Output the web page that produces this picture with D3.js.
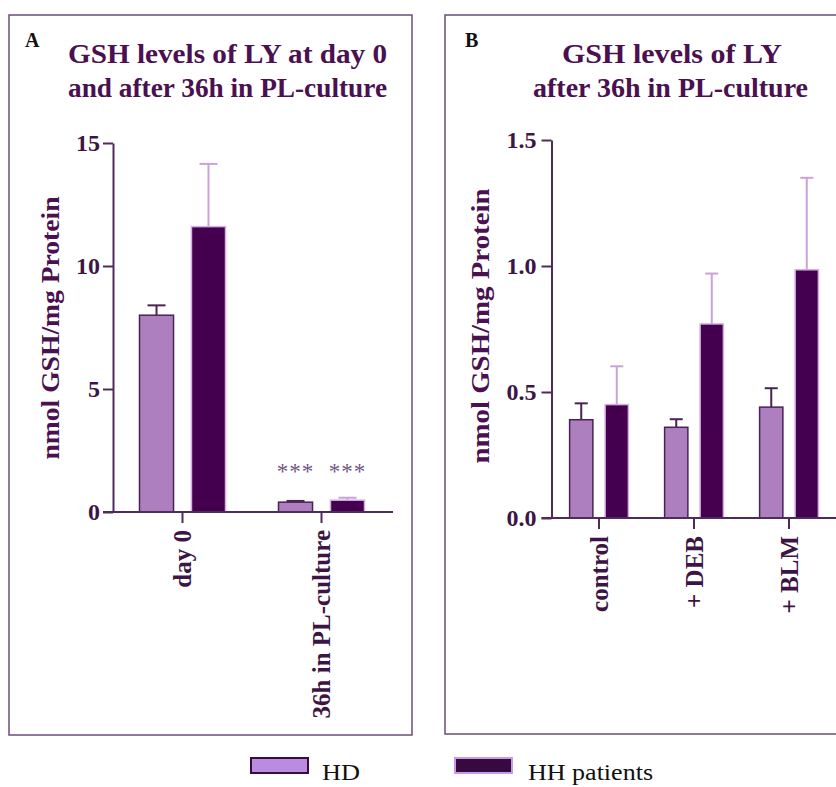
<!DOCTYPE html>
<html>
<head>
<meta charset="utf-8">
<script src="https://cdn.jsdelivr.net/npm/d3@7"></script>
<style>
  html, body { margin: 0; padding: 0; background: #fff; }
  svg { display: block; }
  text { font-family: "Liberation Serif", "DejaVu Serif", serif; }
</style>
</head>
<body>
<svg id="fig" width="836" height="787"></svg>
<script>
// Panel A: GSH at day 0 and after 36h culture
const groupsA = ["day 0", "36h in PL-culture"];
const hdA = [8.0, 0.40];
const hdErrA = [0.40, 0.05];
const hhA = [11.6, 0.48];
const hhErrA = [2.55, 0.10];
const starsA = ["", "***"];
const ticksA = [0, 5, 10, 15];

// Panel B: GSH after 36h culture with treatments
const groupsB = ["control", "+ DEB", "+ BLM"];
const hdB = [0.39, 0.36, 0.44];
const hdErrB = [0.065, 0.032, 0.075];
const hhB = [0.45, 0.77, 0.985];
const hhErrB = [0.152, 0.20, 0.365];
const ticksB = [0.0, 0.5, 1.0, 1.5];

const seriesNames = ["HD", "HH patients"];

const C = {
  frame: "#6b4d78",
  axis: "#4e2c5a",
  title: "#4a1050",
  tick: "#3c1545",
  hdFill: "#ae7fbf",
  hdStroke: "#4a2255",
  hhFill: "#44004f",
  hhStroke: "#d3ade4",
  hdErr: "#4a2255",
  hhErr: "#c9a2d8",
  stars: "#735585",
  legHD: "#b98ce0",
  legHDStroke: "#3a0a40",
  legHH: "#360a3e",
  legHHStroke: "#c89ae8"
};

const svg = d3.select("#fig");

function panel(cfg) {
  const g = svg.append("g");

  // frame
  g.append("rect")
    .attr("x", cfg.frame[0]).attr("y", cfg.frame[1])
    .attr("width", cfg.frame[2]).attr("height", cfg.frame[3])
    .attr("fill", "none").attr("stroke", C.frame).attr("stroke-width", 1.5);

  // panel letter
  g.append("text")
    .attr("x", cfg.letterX).attr("y", 47)
    .attr("font-size", 20).attr("font-weight", "bold").attr("fill", "#111")
    .text(cfg.letter);

  // title lines
  cfg.title.forEach((t, i) => {
    g.append("text")
      .attr("x", t.x).attr("y", 63 + i * 34)
      .attr("font-size", 28).attr("font-weight", "bold").attr("fill", C.title)
      .attr("textLength", t.w).attr("lengthAdjust", "spacingAndGlyphs")
      .text(t.text);
  });

  const y = d3.scaleLinear().domain(cfg.domain).range([cfg.base, cfg.top]);
  const x = d3.scaleBand().domain(cfg.groups).range(cfg.xr).padding(0);
  const sub = d3.scaleBand().domain(seriesNames).range([0, x.bandwidth()])
    .paddingInner(0.345).paddingOuter(0.51);

  // y axis
  const ya = g.append("g").attr("transform", `translate(${cfg.xr[0]},0)`)
    .call(d3.axisLeft(y).tickValues(cfg.ticks).tickFormat(cfg.fmt)
      .tickSize(10).tickSizeOuter(0).tickPadding(cfg.tickPad));
  ya.select(".domain").attr("stroke", C.axis).attr("stroke-width", 2);
  ya.selectAll(".tick line").attr("stroke", C.axis).attr("stroke-width", 2);
  ya.selectAll(".tick text")
    .attr("font-family", "Liberation Serif").attr("font-weight", "bold")
    .attr("font-size", 24).attr("fill", C.tick);

  // y label
  g.append("text")
    .attr("transform", `translate(${cfg.ylabX},${cfg.ylabY}) rotate(-90)`)
    .attr("text-anchor", "middle").attr("dy", "0.35em")
    .attr("font-size", 25).attr("font-weight", "bold").attr("fill", C.title)
    .attr("textLength", cfg.ylabLen).attr("lengthAdjust", "spacingAndGlyphs")
    .text("nmol GSH/mg Protein");

  // bars
  const rows = cfg.groups.map((grp, i) => [
    { grp, s: "HD", v: cfg.hd[i], e: cfg.hdErr[i], star: cfg.stars ? cfg.stars[i] : "" },
    { grp, s: "HH patients", v: cfg.hh[i], e: cfg.hhErr[i], star: cfg.stars ? cfg.stars[i] : "" }
  ]).flat();

  const bx = d => x(d.grp) + sub(d.s);
  const bw = sub.bandwidth();
  const capW = cfg.capW;

  // error bars (upper only), drawn behind bars
  rows.forEach(d => {
    const cx = bx(d) + bw / 2;
    const col = d.s === "HD" ? C.hdErr : C.hhErr;
    g.append("line")
      .attr("x1", cx).attr("x2", cx)
      .attr("y1", y(d.v)).attr("y2", y(d.v + d.e))
      .attr("stroke", col).attr("stroke-width", 2);
    g.append("line")
      .attr("x1", cx - capW / 2).attr("x2", cx + capW / 2)
      .attr("y1", y(d.v + d.e)).attr("y2", y(d.v + d.e))
      .attr("stroke", col).attr("stroke-width", 2);
  });

  g.selectAll("rect.bar").data(rows).join("rect")
    .attr("class", "bar")
    .attr("x", bx).attr("width", bw)
    .attr("y", d => y(d.v)).attr("height", d => y(0) - y(d.v))
    .attr("fill", d => d.s === "HD" ? C.hdFill : C.hhFill)
    .attr("stroke", d => d.s === "HD" ? C.hdStroke : C.hhStroke)
    .attr("stroke-width", 1.5);

  // significance marks
  rows.filter(d => d.star).forEach(d => {
    g.append("text")
      .attr("x", bx(d) + bw / 2).attr("y", y(0) - 33)
      .attr("text-anchor", "middle")
      .attr("font-family", "DejaVu Sans").attr("font-size", 23)
      .attr("letter-spacing", 1)
      .attr("fill", C.stars)
      .text(d.star);
  });

  // x axis
  const xa = g.append("g").attr("transform", `translate(0,${cfg.base})`)
    .call(d3.axisBottom(x).tickSize(11).tickSizeOuter(0).tickFormat(""));
  xa.select(".domain").attr("stroke", C.axis).attr("stroke-width", 2)
    .attr("d", `M${cfg.xr[0] - 10},0H${cfg.xAxisEnd}`);
  xa.selectAll(".tick line").attr("stroke", C.axis).attr("stroke-width", 2);

  // x category labels, rotated
  cfg.groups.forEach(grp => {
    g.append("text")
      .attr("transform", `translate(${x(grp) + x.bandwidth() / 2},${cfg.base + 18}) rotate(-90)`)
      .attr("text-anchor", "end").attr("dy", "0.35em")
      .attr("font-size", 25).attr("font-weight", "bold").attr("fill", C.tick)
      .text(grp);
  });
}

panel({
  frame: [9, 15, 403, 720],
  letter: "A", letterX: 25,
  title: [
    { text: "GSH levels of  LY at day 0", x: 68, w: 319 },
    { text: "and after 36h in PL-culture", x: 68, w: 319 }
  ],
  domain: [0, 15], base: 512, top: 143,
  ticks: ticksA, fmt: d3.format("d"), tickPad: 3,
  groups: groupsA, xr: [113, 391], xAxisEnd: 393,
  hd: hdA, hdErr: hdErrA, hh: hhA, hhErr: hhErrA, stars: starsA,
  capW: 18,
  ylabX: 50, ylabY: 328, ylabLen: 263
});

panel({
  frame: [445, 15, 400, 719],
  letter: "B", letterX: 465,
  title: [
    { text: "GSH levels of  LY", x: 562, w: 220 },
    { text: "after 36h in PL-culture", x: 533, w: 275 }
  ],
  domain: [0, 1.5], base: 518, top: 140,
  ticks: ticksB, fmt: d3.format(".1f"), tickPad: 5,
  groups: groupsB, xr: [551.5, 836.5], xAxisEnd: 840,
  hd: hdB, hdErr: hdErrB, hh: hhB, hhErr: hhErrB, stars: null,
  capW: 13,
  ylabX: 480, ylabY: 326, ylabLen: 275
});

// legend
const leg = svg.append("g");
const legItems = [
  { name: seriesNames[0], x: 251, tx: 322, w: 38, fill: C.legHD, stroke: C.legHDStroke },
  { name: seriesNames[1], x: 455, tx: 528, w: 125, fill: C.legHH, stroke: C.legHHStroke }
];
legItems.forEach(it => {
  leg.append("rect")
    .attr("x", it.x).attr("y", 758).attr("width", 57).attr("height", 15)
    .attr("fill", it.fill).attr("stroke", it.stroke).attr("stroke-width", 2);
  leg.append("text")
    .attr("x", it.tx).attr("y", 780)
    .attr("font-size", 24).attr("fill", "#111")
    .attr("textLength", it.w).attr("lengthAdjust", "spacingAndGlyphs")
    .text(it.name);
});
</script>
</body>
</html>
